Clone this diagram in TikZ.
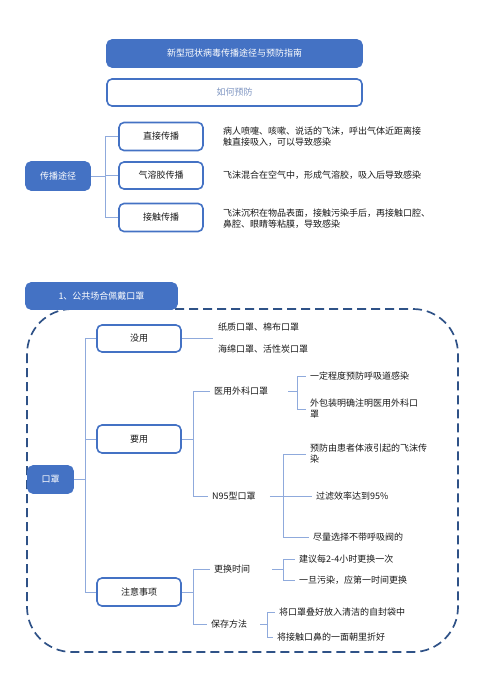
\documentclass[tikz,border=0pt]{standalone}
\usepackage{fontspec}
\setmainfont{Noto Sans CJK SC}
\usetikzlibrary{positioning, calc}
\definecolor{maskblue}{HTML}{4472C4}
\definecolor{linkblue}{HTML}{8FAADC}
\definecolor{dashblue}{HTML}{2F5287}
\definecolor{hintblue}{HTML}{7F96C2}
\tikzset{
  x=1pt, y=-1pt,
  txt/.style={font=\fontsize{9}{11}\selectfont},
  box/.style={rectangle, rounded corners=5pt, draw=maskblue, line width=1.6pt, fill=white,
              align=center, minimum width=84pt, minimum height=28pt, inner sep=2pt, txt, text=black!90},
  boxb/.style={box, fill=maskblue, text=white},
  wide/.style={minimum width=255pt, minimum height=27pt},
  leaf/.style={anchor=west, align=left, inner sep=4pt, txt, text=black!90},
  link/.style={draw=linkblue, line width=0.9pt},
  frame/.style={draw=dashblue, line width=1.7pt, dash pattern=on 9pt off 5pt, rounded corners=45pt},
}

\begin{document}
\begin{tikzpicture}
  \useasboundingbox (0,0) rectangle (496,695);

  % heading
  \node[boxb, wide] (title) at (234.5,53.5) {新型冠状病毒传播途径与预防指南};
  \node[box, wide, text=hintblue] (howto) at (234.5,92.5) {如何预防};

  % routes of transmission
  \node[boxb, minimum width=64pt] (route) at (58,176) {传播途径};
  \node[box] (direct) at (161,136.5) {直接传播};
  \node[box, minimum height=27pt] (aerosol) at (161,175.5) {气溶胶传播};
  \node[box] (contact) at (161,217.5) {接触传播};
  \node[leaf] (directtxt) at (219,136.5) {病人喷嚏、咳嗽、说话的飞沫，呼出气体近距离接\\触直接吸入，可以导致感染};
  \node[leaf] (aerosoltxt) at (219,175.5) {飞沫混合在空气中，形成气溶胶，吸入后导致感染};
  \node[leaf] (contacttxt) at (219,218.5) {飞沫沉积在物品表面，接触污染手后，再接触口腔、\\鼻腔、眼睛等粘膜，导致感染};
  \draw[link] (route.east) -- ++(15,0) coordinate (rj);
  \draw[link] (rj) |- (direct.west);
  \draw[link] (rj) |- (aerosol.west);
  \draw[link] (rj) |- (contact.west);

  % masks in public places
  \draw[frame] (27,309) rectangle (458,652);
  \node[boxb, minimum width=151pt, minimum height=26pt] (sect) at (101.5,296) {1、公共场合佩戴口罩};

  \node[boxb, minimum width=45pt, minimum height=27pt] (mask) at (50.5,479.5) {口罩};
  \node[box, minimum height=27pt] (useless) at (139,338.5) {没用};
  \node[box] (useful) at (139,439) {要用};
  \node[box] (notes) at (139,592) {注意事项};
  \draw[link] (mask.east) -- ++(12,0) coordinate (mj);
  \draw[link] (mj) |- (useless.west);
  \draw[link] (mj) |- (useful.west);
  \draw[link] (mj) |- (notes.west);

  % useless masks
  \node[leaf] (paper) at (214,327) {纸质口罩、棉布口罩};
  \node[leaf] (sponge) at (214,349) {海绵口罩、活性炭口罩};
  \draw[link] (useless.east) -- ++(31,0) coordinate (uend);

  % useful masks
  \node[leaf] (surgical) at (210,391) {医用外科口罩};
  \node[leaf] (n95) at (208,496) {N95型口罩};
  \draw[link] (useful.east) -- ++(12,0) coordinate (yj);
  \draw[link] (yj) |- (surgical.west);
  \draw[link] (yj) |- (n95.west);

  \node[leaf] (s1) at (306,376) {一定程度预防呼吸道感染};
  \node[leaf] (s2) at (306,409) {外包装明确注明医用外科口\\罩};
  \draw[link] ([xshift=16pt]surgical.east) -- ++(9,0) coordinate (sj);
  \draw[link] (sj) |- (s1.west);
  \draw[link] (sj) |- (s2.west);

  \node[leaf] (n1) at (306,454) {预防由患者体液引起的飞沫传\\染};
  \node[leaf] (n2) at (312,496) {过滤效率达到95\%};
  \node[leaf] (n3) at (309,537) {尽量选择不带呼吸阀的};
  \coordinate (nj) at ([xshift=24pt]n95.east);
  \draw[link] ([xshift=10pt]n95.east) -- (n2.west);
  \draw[link] (nj) |- (n1.west);
  \draw[link] (nj) |- (n3.west);

  % notes
  \node[leaf] (change) at (210,569) {更换时间};
  \node[leaf] (store) at (207,624) {保存方法};
  \draw[link] (notes.east) -- ++(12,0) coordinate (zj);
  \draw[link] (zj) |- (change.west);
  \draw[link] (zj) |- (store.west);

  \node[leaf] (c1) at (295,559) {建议每2-4小时更换一次};
  \node[leaf] (c2) at (295,580) {一旦污染，应第一时间更换};
  \draw[link] ([xshift=18pt]change.east) -- ++(11,0) coordinate (cj);
  \draw[link] (cj) |- (c1.west);
  \draw[link] (cj) |- (c2.west);

  \node[leaf] (k1) at (275,612) {将口罩叠好放入清洁的自封袋中};
  \node[leaf] (k2) at (273,637) {将接触口鼻的一面朝里折好};
  \draw[link] ([xshift=9pt]store.east) -- ++(7,0) coordinate (kj);
  \draw[link] (kj) |- (k1.west);
  \draw[link] (kj) |- (k2.west);
\end{tikzpicture}
\end{document}
